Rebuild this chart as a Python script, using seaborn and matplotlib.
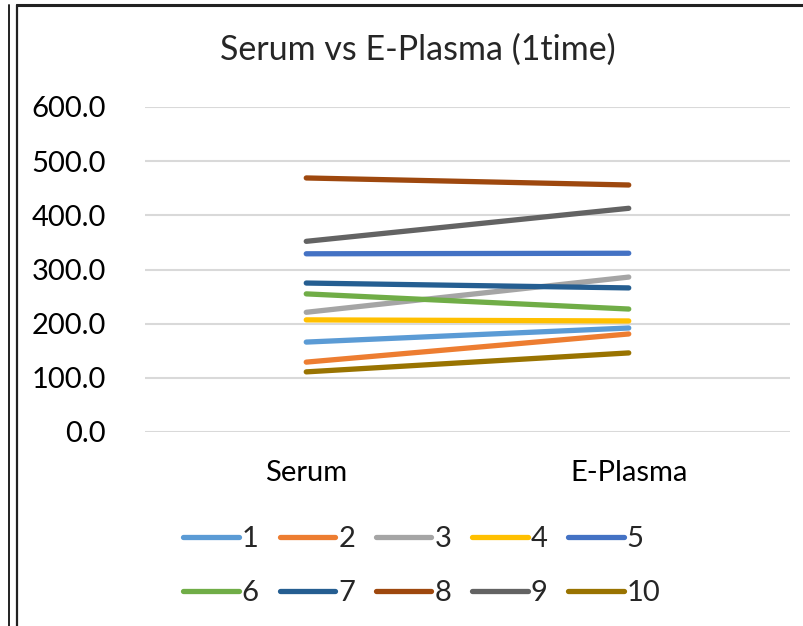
import matplotlib
matplotlib.use("Agg")
import matplotlib.pyplot as plt
from matplotlib.lines import Line2D
import seaborn as sns
import pandas as pd

categories = ["Serum", "E-Plasma"]
series_names = ["1", "2", "3", "4", "5", "6", "7", "8", "9", "10"]
serum = [166, 129, 221, 207, 329, 255, 275, 469, 352, 111]
eplasma = [192, 181, 286, 205, 330, 227, 266, 456, 413, 146]
colors = ["#5B9BD5", "#ED7D31", "#A5A5A5", "#FFC000", "#4472C4",
          "#70AD47", "#255E91", "#9E480E", "#636363", "#997300"]
yticks = [0, 100, 200, 300, 400, 500, 600]
title = "Serum vs E-Plasma (1time)"

rows = []
for name, s, e in zip(series_names, serum, eplasma):
    rows.append({"cat": categories[0], "val": s, "series": name})
    rows.append({"cat": categories[1], "val": e, "series": name})
df = pd.DataFrame(rows)

sns.set_theme(style="white")
plt.rcParams["font.family"] = ["Lato", "DejaVu Sans"]

W, H = 804, 626
FS = 21
fig = plt.figure(figsize=(W / 100, H / 100), dpi=100)
ax = fig.add_axes([145 / W, 1 - 432 / H, (790 - 145) / W, (432 - 107) / H])

sns.lineplot(data=df, x="cat", y="val", hue="series", palette=colors,
             hue_order=series_names, linewidth=3.8, ax=ax, legend=False,
             sort=False)
for ln in ax.lines:
    ln.set_solid_capstyle("round")

ax.set_xlim(-0.5, 1.5)
ax.set_ylim(0, 600)
ax.set_yticks(yticks)
ax.set_yticklabels([f"{v:.1f}" for v in yticks])
ax.set_xticks([0, 1])
ax.set_xticklabels(categories)
ax.tick_params(axis="both", length=0, labelsize=FS, colors="black")
ax.tick_params(axis="y", pad=28)
ax.tick_params(axis="x", pad=20)
ax.set_xlabel("")
ax.set_ylabel("")
for sp in ax.spines.values():
    sp.set_visible(False)
ax.yaxis.grid(True, color="#D9D9D9", linewidth=1.5)
ax.set_axisbelow(True)

fig.text(418 / W, 1 - 50 / H, title, ha="center", va="center", fontsize=24.5)

# row-major legend order (matplotlib fills columns first)
order = [0, 5, 1, 6, 2, 7, 3, 8, 4, 9]
handles = [Line2D([0], [0], color=colors[i], linewidth=3.8, solid_capstyle="round")
           for i in order]
labels = [series_names[i] for i in order]
leg = fig.legend(handles, labels, loc="center", ncol=5,
                 bbox_to_anchor=(422 / W, 1 - 566 / H), frameon=False,
                 fontsize=FS, handlelength=1.9, handletextpad=0.1,
                 columnspacing=0.72, labelspacing=0.95)

# chart frame borders
def fline(x0, y0, x1, y1, lw=2.0, color="#222222"):
    fig.add_artist(Line2D([x0 / W, x1 / W], [1 - y0 / H, 1 - y1 / H],
                          color=color, linewidth=lw, transform=fig.transFigure))

fline(9, 5, 9, 626, lw=1.4)
fline(17, 5, 17, 626, lw=1.6)
fline(17, 5, 804, 5, lw=2.2)

fig.savefig("out.png", dpi=100)
